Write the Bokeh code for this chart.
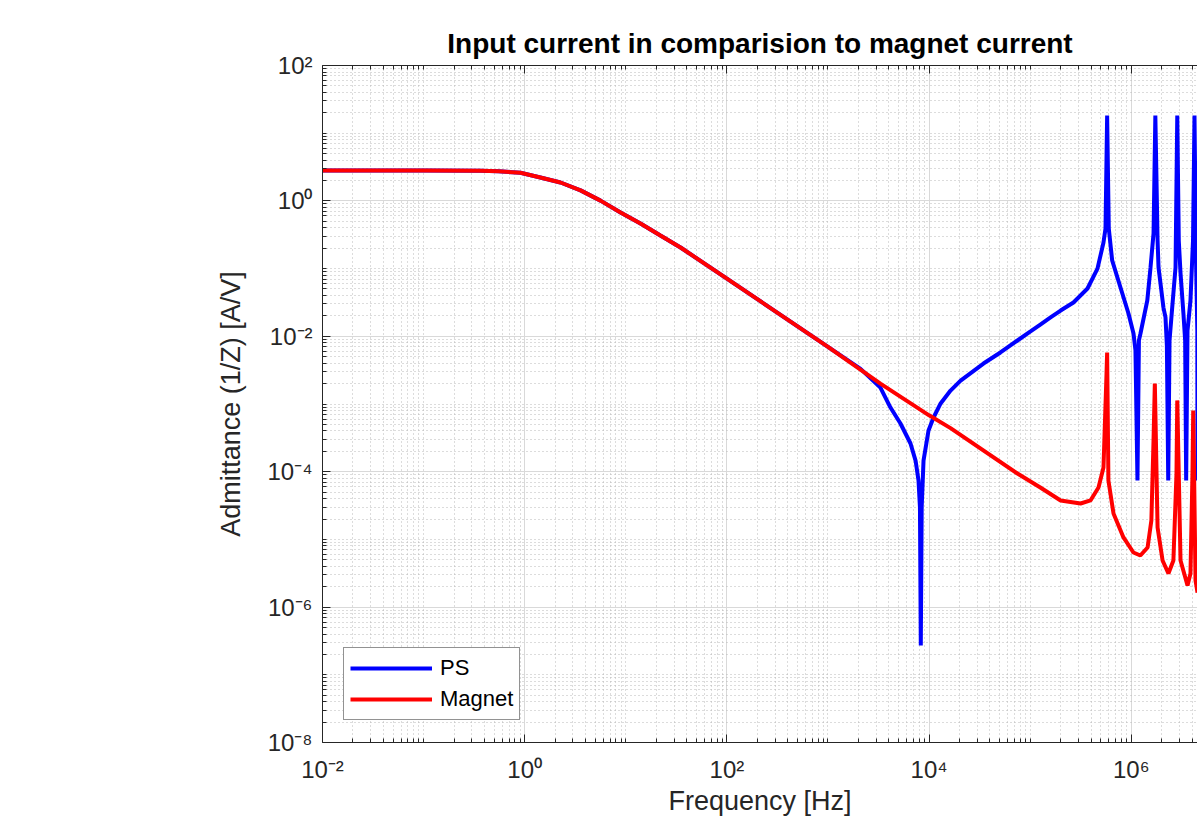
from bokeh.plotting import figure
from bokeh.models import (Range1d, FixedTicker, CustomJSTickFormatter, LogAxis,
                          Legend, LegendItem)
from bokeh.embed import file_html
from bokeh.resources import INLINE

# ---- data ----
freq_magnet = [1e-2, 1e-1, 3.66e-1, 5.5e-1, 9.08e-1, 1.43, 2.26, 3.57, 5.62, 8.87, 13.97,
               22.0, 34.8, 1e2, 1e3, 3.3e3, 1e4, 1.63e4, 7.48e4, 1.26e5, 2.0e5, 3.15e5,
               3.95e5, 4.74e5, 5.31e5, 5.69e5, 5.77e5, 5.94e5, 6.67e5, 8.37e5, 1.05e6,
               1.23e6, 1.45e6, 1.58e6, 1.66e6, 1.71e6, 1.82e6, 2.04e6, 2.33e6, 2.61e6,
               2.80e6, 2.85e6, 3.07e6, 3.60e6, 3.85e6, 4.03e6, 4.10e6, 4.32e6, 4.52e6]
adm_magnet = [2.81, 2.81, 2.80, 2.74, 2.60, 2.22, 1.87, 1.43, 1.01, 0.674, 0.464,
              0.308, 0.205, 0.071, 7.0e-3, 2.0e-3, 6.8e-4, 4.4e-4, 9.4e-5, 5.85e-5,
              3.76e-5, 3.39e-5, 3.76e-5, 5.85e-5, 1.15e-4, 2.82e-3, 5.77e-3, 7.4e-5,
              2.42e-5, 1.07e-5, 6.4e-6, 5.78e-6, 7.6e-6, 1.9e-5, 2.9e-4, 2.01e-3,
              1.5e-5, 4.88e-6, 3.13e-6, 4.88e-6, 9.4e-5, 1.13e-3, 4.88e-6, 2.08e-6,
              3.13e-6, 9.4e-5, 8.0e-4, 2.47e-6, 1.64e-6]

freq_ps = [1e-2, 1e-1, 3.66e-1, 5.5e-1, 9.08e-1, 1.43, 2.26, 3.57, 5.62, 8.87, 13.97,
           22.0, 34.8, 1e2, 1e3, 2.1e3, 3.3e3, 4.15e3, 5.21e3, 6.55e3, 7.35e3, 7.86e3,
           8.12e3, 8.28e3, 8.45e3, 8.81e3, 9.87e3, 1.107e4, 1.30e4, 1.63e4, 2.05e4,
           3.45e4, 5.08e4, 7.48e4, 1.007e5, 1.26e5, 1.59e5, 2.0e5, 2.68e5, 3.69e5,
           4.63e5, 5.31e5, 5.56e5, 5.77e5, 5.99e5, 6.47e5, 7.82e5, 9.38e5, 1.052e6,
           1.10e6, 1.151e6, 1.19e6, 1.233e6, 1.44e6, 1.55e6, 1.66e6, 1.73e6, 1.82e6,
           1.86e6, 2.08e6, 2.18e6, 2.25e6, 2.32e6, 2.39e6, 2.54e6, 2.74e6, 2.85e6,
           2.95e6, 3.07e6, 3.28e6, 3.41e6, 3.49e6, 3.60e6, 3.85e6, 4.08e6, 4.22e6,
           4.37e6, 4.50e6, 4.52e6]
adm_ps = [2.81, 2.81, 2.80, 2.74, 2.60, 2.22, 1.87, 1.43, 1.01, 0.674, 0.464,
          0.308, 0.205, 0.071, 7.0e-3, 3.3e-3, 1.75e-3, 8.87e-4, 5.15e-4, 2.61e-4,
          1.46e-4, 7.4e-5, 3.0e-5, 2.7e-7, 3.0e-5, 1.46e-4, 4.06e-4, 6.32e-4, 1.02e-3,
          1.58e-3, 2.22e-3, 3.96e-3, 5.77e-3, 8.67e-3, 1.18e-2, 1.49e-2, 1.90e-2,
          2.40e-2, 3.16e-2, 5.08e-2, 0.100, 0.243, 0.391, 18.2, 0.391, 0.132, 5.26e-2,
          2.17e-2, 1.1e-2, 6.2e-3, 7.4e-5, 8.7e-3, 1.1e-2, 3.38e-2, 0.104, 0.33, 18.2,
          0.26, 0.104, 2.66e-2, 1.9e-2, 7.3e-3, 7.4e-5, 8.7e-3, 2.66e-2, 0.104, 18.2,
          0.26, 8.5e-2, 2.17e-2, 8.7e-3, 7.4e-5, 1.22e-2, 3.38e-2, 0.26, 18.2, 0.132,
          1.22e-2, 7.4e-5]

x_major = [1e-2, 1e0, 1e2, 1e4, 1e6]
y_major = [1e-8, 1e-6, 1e-4, 1e-2, 1e0, 1e2]
x_decades = list(range(-2, 7))
y_decades = list(range(-8, 2))

title_text = "Input current in comparision to magnet current"
x_label = "Frequency [Hz]"
y_label = "Admittance (1/Z) [A/V]"
series_names = ["PS", "Magnet"]

# ---- minor ticks: 2..9 x 10^k and odd decades ----
x_minor = [m * 10.0 ** k for k in x_decades for m in range(2, 10)] + \
          [10.0 ** k for k in x_decades if k % 2 != 0]
y_minor = [m * 10.0 ** k for k in y_decades for m in range(2, 10)] + \
          [10.0 ** k for k in y_decades if k % 2 != 0]

FONT = "Liberation Sans"
DARK = "#262626"

p = figure(width=1197, height=819, x_axis_type="log", y_axis_type="log",
           x_range=Range1d(1e-2, 10 ** 6.655), y_range=Range1d(1e-8, 1e2),
           output_backend="svg", toolbar_location=None,
           min_border_left=322, min_border_right=0, min_border_top=65,
           min_border_bottom=77, background_fill_color="white",
           border_fill_color="white")
p.outline_line_color = None

sup_code = """
const sup = {'-':'\u207b','0':'\u2070','1':'\u00b9','2':'\u00b2','3':'\u00b3','4':'\u2074',
             '5':'\u2075','6':'\u2076','7':'\u2077','8':'\u2078','9':'\u2079'};
const e = Math.round(Math.log10(tick));
return '10' + String(e).split('').map(c => sup[c]).join('');
"""
fmt = CustomJSTickFormatter(code=sup_code)

xt = FixedTicker(ticks=x_major, minor_ticks=x_minor)
yt = FixedTicker(ticks=y_major, minor_ticks=y_minor)

for ax, t in ((p.xaxis[0], xt), (p.yaxis[0], yt)):
    ax.ticker = t
    ax.formatter = fmt
    ax.major_tick_in = 8
    ax.major_tick_out = 0
    ax.minor_tick_in = 4
    ax.minor_tick_out = 0
    ax.axis_line_color = DARK
    ax.major_tick_line_color = DARK
    ax.minor_tick_line_color = DARK
    ax.major_label_text_font = FONT
    ax.major_label_text_font_size = "24px"
    ax.major_label_text_color = DARK
    ax.axis_label_text_font = FONT
    ax.axis_label_text_font_size = "27px"
    ax.axis_label_text_font_style = "normal"
    ax.axis_label_text_color = DARK

p.xaxis[0].axis_label = x_label
p.xaxis[0].major_label_standoff = 13
p.xaxis[0].axis_label_standoff = 0
p.yaxis[0].axis_label = y_label
p.yaxis[0].major_label_standoff = 10
p.yaxis[0].axis_label_standoff = 18

top_axis = LogAxis(ticker=FixedTicker(ticks=x_major, minor_ticks=x_minor),
                   formatter=CustomJSTickFormatter(code="return '';"),
                   major_tick_in=8, major_tick_out=0, minor_tick_in=4, minor_tick_out=0,
                   axis_line_color=DARK, major_tick_line_color=DARK,
                   minor_tick_line_color=DARK, major_label_text_font_size="0px",
                   major_label_standoff=0)
p.add_layout(top_axis, "above")

for g, t in ((p.xgrid[0], xt), (p.ygrid[0], yt)):
    g.ticker = t
    g.grid_line_color = "#d9d9d9"
    g.grid_line_width = 1
    g.minor_grid_line_color = "#b8b8b8"
    g.minor_grid_line_dash = "1 3"
    g.minor_grid_line_width = 1

p.title.text = title_text
p.title.align = "center"
p.title.text_font = FONT
p.title.text_font_size = "28px"
p.title.text_font_style = "bold"
p.title.text_color = "black"
p.title.standoff = 13

r_ps = p.line(freq_ps, adm_ps, line_color="#0000ff", line_width=4)
r_mag = p.line(freq_magnet, adm_magnet, line_color="#ff0000", line_width=4)

legend = Legend(items=[LegendItem(label=series_names[0], renderers=[r_ps]),
                       LegendItem(label=series_names[1], renderers=[r_mag])],
                location=(21, 22), orientation="vertical",
                glyph_width=82, glyph_height=28, label_height=28,
                label_standoff=8, spacing=3, padding=6, margin=0,
                label_text_font=FONT, label_text_font_size="22px",
                label_text_color="black", border_line_color=DARK,
                border_line_width=1, background_fill_color="white",
                background_fill_alpha=1)
p.add_layout(legend)

open("out.html", "w").write(file_html(p, INLINE))
